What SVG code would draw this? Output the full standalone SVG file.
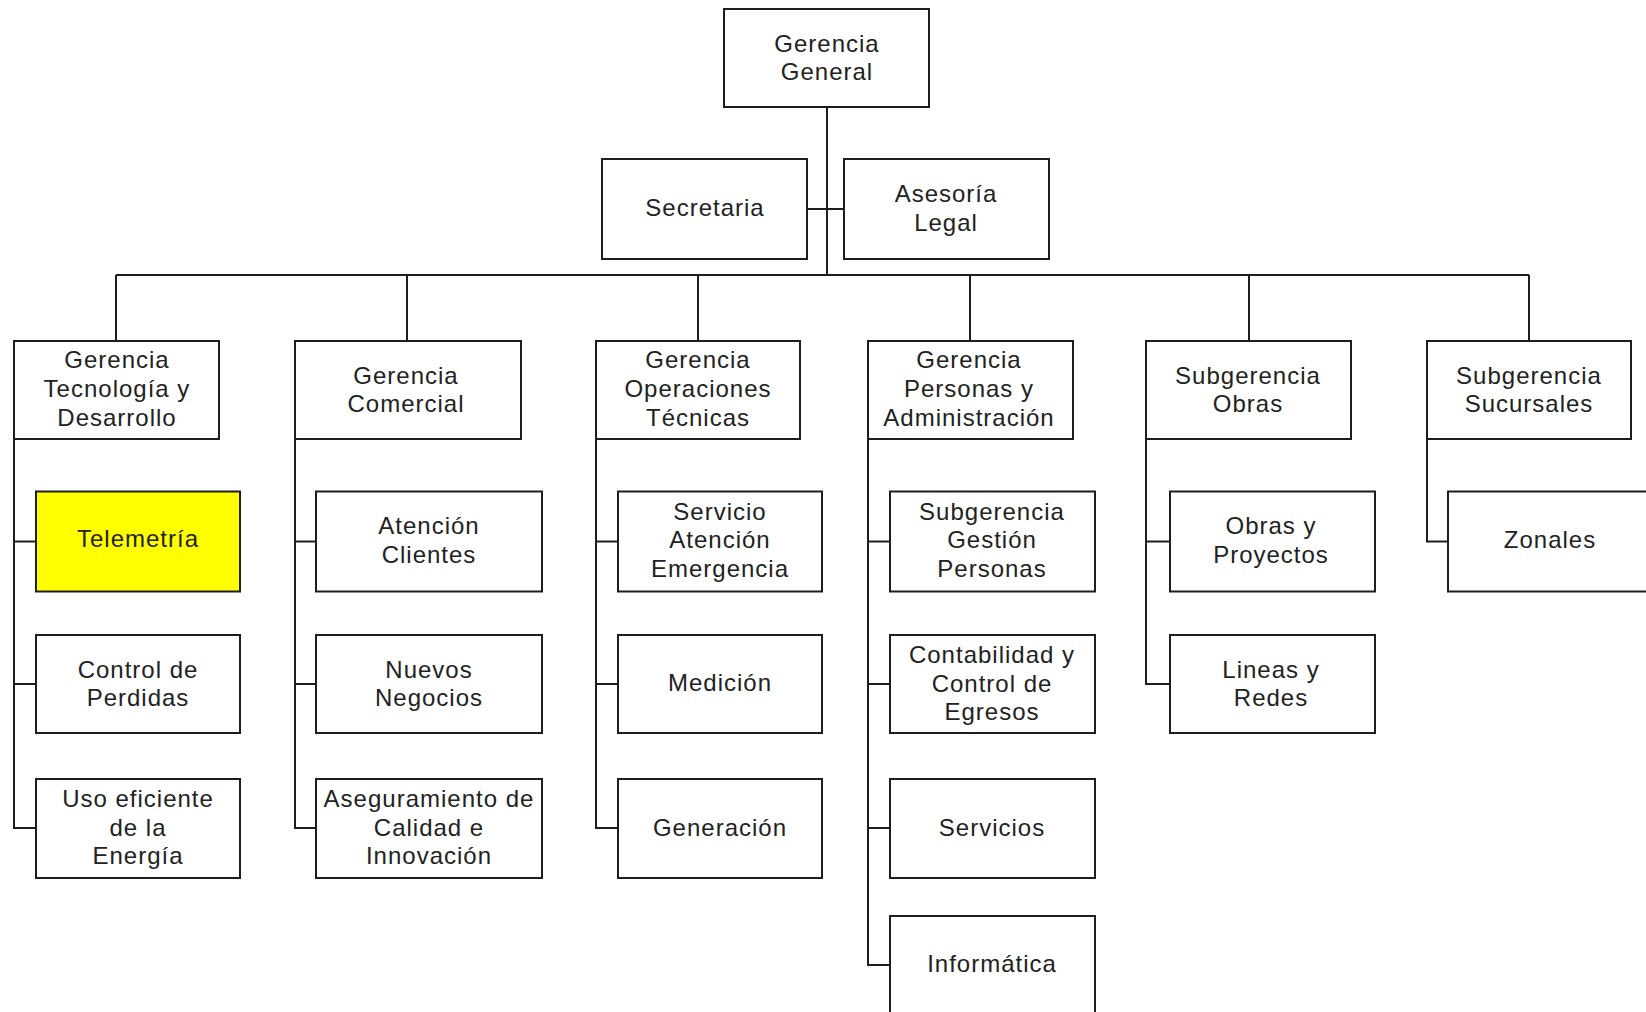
<svg xmlns="http://www.w3.org/2000/svg" width="1646" height="1012" viewBox="0 0 1646 1012">
  <style>
    .box { fill: #ffffff; stroke: #1e1e1e; stroke-width: 2; }
    .hl { fill: #ffff00; }
    .wire { fill: none; stroke: #1e1e1e; stroke-width: 2; }
    .lbl { font-family: "Liberation Sans", Arial, sans-serif; font-size: 24px; letter-spacing: 1px; fill: #222222; text-anchor: middle; }
  </style>
  <rect width="1646" height="1012" fill="#ffffff"/>

  <!-- connectors -->
  <g id="connectors" class="wire">
    <path d="M827 107 V275"/>
    <path d="M807 209 H844"/>
    <path d="M116 275 H1529"/>
    <path d="M116 275 V341 M407 275 V341 M698 275 V341 M970 275 V341 M1249 275 V341 M1529 275 V341"/>
    <!-- Tecnología y Desarrollo -->
    <path d="M14 439 V828 H36 M14 541.5 H36 M14 684 H36"/>
    <!-- Comercial -->
    <path d="M295 439 V828 H316 M295 541.5 H316 M295 684 H316"/>
    <!-- Operaciones Técnicas -->
    <path d="M596 439 V828 H618 M596 541.5 H618 M596 684 H618"/>
    <!-- Personas y Administración -->
    <path d="M868 439 V965 H890 M868 541.5 H890 M868 684 H890 M868 828 H890"/>
    <!-- Obras -->
    <path d="M1146 439 V684 H1170 M1146 541.5 H1170"/>
    <!-- Sucursales -->
    <path d="M1427 439 V541.5 H1448"/>
  </g>

  <!-- top -->
  <g id="gerencia-general">
    <rect class="box" x="724" y="9" width="205" height="98"/>
    <text class="lbl" x="827" y="52">Gerencia</text>
    <text class="lbl" x="827" y="80">General</text>
  </g>
  <g id="secretaria">
    <rect class="box" x="602" y="159" width="205" height="100"/>
    <text class="lbl" x="705" y="216">Secretaria</text>
  </g>
  <g id="asesoria-legal">
    <rect class="box" x="844" y="159" width="205" height="100"/>
    <text class="lbl" x="946" y="202">Asesoría</text>
    <text class="lbl" x="946" y="231">Legal</text>
  </g>

  <!-- second level -->
  <g id="gerencia-tecnologia">
    <rect class="box" x="14" y="341" width="205" height="98"/>
    <text class="lbl" x="117" y="368">Gerencia</text>
    <text class="lbl" x="117" y="397">Tecnología y</text>
    <text class="lbl" x="117" y="426">Desarrollo</text>
  </g>
  <g id="gerencia-comercial">
    <rect class="box" x="295" y="341" width="226" height="98"/>
    <text class="lbl" x="406" y="384">Gerencia</text>
    <text class="lbl" x="406" y="412">Comercial</text>
  </g>
  <g id="gerencia-operaciones">
    <rect class="box" x="596" y="341" width="204" height="98"/>
    <text class="lbl" x="698" y="368">Gerencia</text>
    <text class="lbl" x="698" y="397">Operaciones</text>
    <text class="lbl" x="698" y="426">Técnicas</text>
  </g>
  <g id="gerencia-personas">
    <rect class="box" x="868" y="341" width="205" height="98"/>
    <text class="lbl" x="969" y="368">Gerencia</text>
    <text class="lbl" x="969" y="397">Personas y</text>
    <text class="lbl" x="969" y="426">Administración</text>
  </g>
  <g id="subgerencia-obras">
    <rect class="box" x="1146" y="341" width="205" height="98"/>
    <text class="lbl" x="1248" y="384">Subgerencia</text>
    <text class="lbl" x="1248" y="412">Obras</text>
  </g>
  <g id="subgerencia-sucursales">
    <rect class="box" x="1427" y="341" width="204" height="98"/>
    <text class="lbl" x="1529" y="384">Subgerencia</text>
    <text class="lbl" x="1529" y="412">Sucursales</text>
  </g>

  <!-- Tecnología y Desarrollo units -->
  <g id="telemetria">
    <rect class="box hl" x="36" y="491.5" width="204" height="100"/>
    <text class="lbl" x="138" y="547">Telemetría</text>
  </g>
  <g id="control-perdidas">
    <rect class="box" x="36" y="635" width="204" height="98"/>
    <text class="lbl" x="138" y="678">Control de</text>
    <text class="lbl" x="138" y="706">Perdidas</text>
  </g>
  <g id="uso-eficiente">
    <rect class="box" x="36" y="779" width="204" height="99"/>
    <text class="lbl" x="138" y="807">Uso eficiente</text>
    <text class="lbl" x="138" y="836">de la</text>
    <text class="lbl" x="138" y="864">Energía</text>
  </g>

  <!-- Comercial units -->
  <g id="atencion-clientes">
    <rect class="box" x="316" y="491.5" width="226" height="100"/>
    <text class="lbl" x="429" y="534">Atención</text>
    <text class="lbl" x="429" y="563">Clientes</text>
  </g>
  <g id="nuevos-negocios">
    <rect class="box" x="316" y="635" width="226" height="98"/>
    <text class="lbl" x="429" y="678">Nuevos</text>
    <text class="lbl" x="429" y="706">Negocios</text>
  </g>
  <g id="aseguramiento-calidad">
    <rect class="box" x="316" y="779" width="226" height="99"/>
    <text class="lbl" x="429" y="807">Aseguramiento de</text>
    <text class="lbl" x="429" y="836">Calidad e</text>
    <text class="lbl" x="429" y="864">Innovación</text>
  </g>

  <!-- Operaciones Técnicas units -->
  <g id="servicio-emergencia">
    <rect class="box" x="618" y="491.5" width="204" height="100"/>
    <text class="lbl" x="720" y="520">Servicio</text>
    <text class="lbl" x="720" y="548">Atención</text>
    <text class="lbl" x="720" y="577">Emergencia</text>
  </g>
  <g id="medicion">
    <rect class="box" x="618" y="635" width="204" height="98"/>
    <text class="lbl" x="720" y="691">Medición</text>
  </g>
  <g id="generacion">
    <rect class="box" x="618" y="779" width="204" height="99"/>
    <text class="lbl" x="720" y="836">Generación</text>
  </g>

  <!-- Personas y Administración units -->
  <g id="gestion-personas">
    <rect class="box" x="890" y="491.5" width="205" height="100"/>
    <text class="lbl" x="992" y="520">Subgerencia</text>
    <text class="lbl" x="992" y="548">Gestión</text>
    <text class="lbl" x="992" y="577">Personas</text>
  </g>
  <g id="contabilidad">
    <rect class="box" x="890" y="635" width="205" height="98"/>
    <text class="lbl" x="992" y="663">Contabilidad y</text>
    <text class="lbl" x="992" y="692">Control de</text>
    <text class="lbl" x="992" y="720">Egresos</text>
  </g>
  <g id="servicios">
    <rect class="box" x="890" y="779" width="205" height="99"/>
    <text class="lbl" x="992" y="836">Servicios</text>
  </g>
  <g id="informatica">
    <rect class="box" x="890" y="916" width="205" height="100"/>
    <text class="lbl" x="992" y="972">Informática</text>
  </g>

  <!-- Obras units -->
  <g id="obras-proyectos">
    <rect class="box" x="1170" y="491.5" width="205" height="100"/>
    <text class="lbl" x="1271" y="534">Obras y</text>
    <text class="lbl" x="1271" y="563">Proyectos</text>
  </g>
  <g id="lineas-redes">
    <rect class="box" x="1170" y="635" width="205" height="98"/>
    <text class="lbl" x="1271" y="678">Lineas y</text>
    <text class="lbl" x="1271" y="706">Redes</text>
  </g>

  <!-- Sucursales units -->
  <g id="zonales">
    <rect class="box" x="1448" y="491.5" width="204" height="100"/>
    <text class="lbl" x="1550" y="548">Zonales</text>
  </g>
</svg>
